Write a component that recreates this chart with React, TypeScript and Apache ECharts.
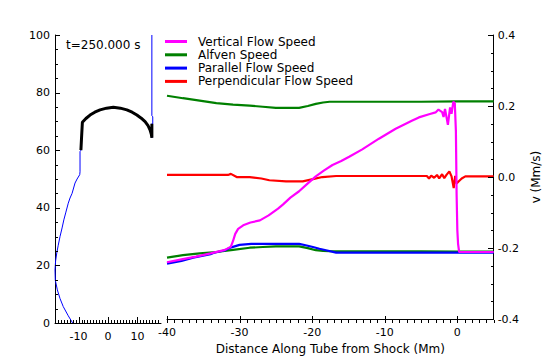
import React, { useEffect, useRef } from "react";
import * as echarts from "echarts";

// ---------- Left inset: loop shape (height vs position, Mm) ----------
const blueLowerX = [-12.0, -13.5, -15.2, -16.3, -17.2, -17.9, -18.0, -17.8, -17.4, -16.9, -16.3, -15.6, -15.0, -14.3, -13.5, -12.9, -12.2, -11.2, -10.5, -9.6, -9.5, -9.5];
const blueLowerY = [0, 2.5, 5.7, 8.5, 11.5, 14.9, 18.4, 21.5, 24.3, 27.0, 30.0, 33.0, 35.8, 38.5, 41.6, 43.4, 45.0, 48.6, 50.0, 51.5, 52.5, 59.5];
const arcX = [-9.2, -9.0, -8.7, -7.5, -6.1, -4.5, -2.7, -0.5, 1.8, 4.2, 6.4, 8.2, 9.8, 11.3, 12.6, 13.6, 14.3, 14.7, 14.9, 14.9];
const arcY = [60.0, 64.0, 69.7, 71.0, 72.2, 73.2, 74.0, 74.6, 74.9, 74.6, 74.0, 73.2, 72.2, 71.1, 69.9, 68.5, 67.0, 65.6, 64.3, 69.2];
const blueUpperX = [15.2, 15.2, 14.9, 14.9];
const blueUpperY = [69.2, 71.6, 72.0, 100];

// ---------- Right panel: speeds vs distance from shock ----------
const alfX = [-40, -37.8, -35.5, -33.2, -30.9, -28.6, -26.8, -25, -23.4, -21.8, -20.6, -19.5, -18.5, -17.6, -15, -10, -5, 0, 5];
const alfUpper = [0.229, 0.222, 0.215, 0.208, 0.204, 0.201, 0.198, 0.195, 0.195, 0.195, 0.2, 0.206, 0.21, 0.212, 0.212, 0.212, 0.212, 0.213, 0.213];
const alfLower = [-0.227, -0.22, -0.215, -0.211, -0.205, -0.199, -0.197, -0.195, -0.195, -0.195, -0.2, -0.206, -0.208, -0.209, -0.209, -0.209, -0.209, -0.21, -0.21];

const parX = [-40, -38, -36.4, -34, -33.6, -32, -31.4, -30.8, -30, -28.4, -25, -21.8, -20.9, -19.9, -19, -18.1, -16.7, -10, 0, 5];
const parV = [-0.244, -0.236, -0.227, -0.217, -0.214, -0.206, -0.2, -0.196, -0.191, -0.188, -0.188, -0.188, -0.192, -0.197, -0.202, -0.206, -0.213, -0.213, -0.213, -0.213];

const vertX = [-40, -38, -36, -34, -32, -31.2, -30.9, -30.6, -30.2, -29.5, -28.5, -27.2, -26, -24.7, -24, -23, -21.8, -20.6, -19.5, -18.4, -17.2, -16, -14.9, -13.1, -10.8, -8.5, -6.2, -5.3, -3.9, -3.0, -2.6, -2.1, -1.9, -1.7, -1.3, -1.0, -0.8, -0.55, -0.35, -0.2, -0.1, 0.0, 0.1, 0.25, 5];
const vertV = [-0.24, -0.232, -0.224, -0.215, -0.205, -0.196, -0.18, -0.16, -0.146, -0.136, -0.128, -0.122, -0.108, -0.089, -0.077, -0.058, -0.04, -0.018, 0.002, 0.018, 0.034, 0.045, 0.057, 0.078, 0.108, 0.136, 0.159, 0.168, 0.177, 0.182, 0.19, 0.183, 0.169, 0.192, 0.147, 0.196, 0.178, 0.212, 0.208, 0.13, -0.05, -0.15, -0.188, -0.211, -0.211];

const perpX = [-40, -35, -31.6, -31.2, -30.4, -28.6, -27, -25.9, -23.6, -21.3, -19.9, -18.6, -16.7, -10, -4.2, -3.9, -3.6, -3.2, -2.8, -2.5, -2.1, -1.8, -1.5, -1.1, -0.8, -0.5, -0.3, -0.1, 0.2, 0.6, 1.1, 5];
const perpV = [0.006, 0.006, 0.006, 0.009, 0.0, 0.0, -0.004, -0.009, -0.012, -0.012, -0.006, 0.0, 0.003, 0.003, 0.003, -0.004, 0.004, -0.002, 0.006, -0.004, 0.008, -0.003, 0.006, 0.016, 0.002, -0.031, 0.003, -0.018, -0.012, -0.004, 0.002, 0.002];

const leftXLabels = [-10, 0, 10];
const rightXLabels = [-40, -30, -20, -10, 0];
const legendNames = ["Vertical Flow Speed", "Alfven Speed", "Parallel Flow Speed", "Perpendicular Flow Speed"];
const timeLabel = "t=250.000 s";
const xTitle = "Distance Along Tube from Shock (Mm)";
const yTitle = "v (Mm/s)";

const zip = (xs: number[], ys: number[]) => xs.map((x, i) => [x, ys[i]]);
const steps = (a: number, b: number, s: number) => {
  const r: number[] = [];
  const n = Math.round((b - a) / s);
  for (let i = 0; i <= n; i++) r.push(+(a + i * s).toFixed(6));
  return r;
};
const isMult = (v: number, m: number) => Math.abs(v / m - Math.round(v / m)) < 1e-6;

const FONT = "DejaVu Sans";

export default function App() {
  const ref = useRef<HTMLDivElement>(null);
  useEffect(() => {
    if (!ref.current) return;
    const chart = echarts.init(ref.current, null, { renderer: "svg" });
    const axisLine = { show: true, onZero: false, lineStyle: { color: "#000", width: 1 } };
    const labelStyle = { color: "#000", fontFamily: FONT, fontSize: 11 };
    const blueLoop = [...zip(blueLowerX, blueLowerY), ...zip(arcX, arcY), ...zip(blueUpperX, blueUpperY)];
    chart.setOption({
      animation: false,
      backgroundColor: "#fff",
      textStyle: { fontFamily: FONT },
      grid: [
        { left: 55, top: 35, width: 106, height: 288 },
        { left: 167, top: 35, width: 328, height: 288 },
      ],
      legend: {
        data: legendNames,
        orient: "vertical",
        left: 165,
        top: 35,
        padding: 0,
        itemWidth: 22,
        itemHeight: 3,
        icon: "rect",
        itemGap: 0.3,
        textStyle: { color: "#000", fontFamily: FONT, fontSize: 12, lineHeight: 13, padding: [0, 0, 0, 6] },
        selectedMode: false,
      },
      xAxis: [
        {
          type: "value", gridIndex: 0, min: -18, max: 18,
          axisLine, splitLine: { show: false }, axisTick: { show: false },
          axisLabel: { ...labelStyle, margin: 8, customValues: leftXLabels },
        },
        {
          type: "value", gridIndex: 1, min: -40, max: 5,
          axisLine, splitLine: { show: false }, axisTick: { show: false },
          axisLabel: { ...labelStyle, margin: 8, customValues: rightXLabels },
          name: xTitle, nameLocation: "middle", nameGap: 22,
          nameTextStyle: { color: "#000", fontFamily: FONT, fontSize: 12 },
        },
      ],
      yAxis: [
        {
          type: "value", gridIndex: 0, position: "left", min: 0, max: 100, interval: 20,
          axisLine, splitLine: { show: false }, axisTick: { show: false },
          axisLabel: { ...labelStyle, margin: 5 },
        },
        {
          type: "value", gridIndex: 1, position: "right", min: -0.4, max: 0.4, interval: 0.2,
          axisLine, splitLine: { show: false }, axisTick: { show: false },
          axisLabel: { ...labelStyle, margin: 4, formatter: (v: number) => (Math.abs(v) < 1e-9 ? "0.0" : v.toFixed(1)) },
          name: yTitle, nameLocation: "middle", nameGap: 31, nameRotate: 90,
          nameTextStyle: { color: "#000", fontFamily: FONT, fontSize: 12 },
        },
      ],
      series: [
        { name: "loopBlue", type: "line", xAxisIndex: 0, yAxisIndex: 0, data: blueLoop, showSymbol: false, lineStyle: { color: "#0000ff", width: 1 }, itemStyle: { color: "#0000ff" }, z: 2 },
        { name: "loopBlack", type: "line", xAxisIndex: 0, yAxisIndex: 0, data: zip(arcX, arcY), showSymbol: false, lineStyle: { color: "#000", width: 3 }, itemStyle: { color: "#000" }, z: 3 },
        { name: "Alfven Speed", type: "line", xAxisIndex: 1, yAxisIndex: 1, data: zip(alfX, alfUpper), showSymbol: false, lineStyle: { color: "#008000", width: 2.2 }, itemStyle: { color: "#008000" }, z: 2 },
        { name: "Alfven Speed", type: "line", xAxisIndex: 1, yAxisIndex: 1, data: zip(alfX, alfLower), showSymbol: false, lineStyle: { color: "#008000", width: 2.2 }, itemStyle: { color: "#008000" }, z: 2 },
        { name: "Parallel Flow Speed", type: "line", xAxisIndex: 1, yAxisIndex: 1, data: zip(parX, parV), showSymbol: false, lineStyle: { color: "#0000ff", width: 2.2 }, itemStyle: { color: "#0000ff" }, z: 3 },
        { name: "Perpendicular Flow Speed", type: "line", xAxisIndex: 1, yAxisIndex: 1, data: zip(perpX, perpV), showSymbol: false, lineStyle: { color: "#ff0000", width: 2.2 }, itemStyle: { color: "#ff0000" }, z: 3 },
        { name: "Vertical Flow Speed", type: "line", xAxisIndex: 1, yAxisIndex: 1, data: zip(vertX, vertV), showSymbol: false, lineStyle: { color: "#ff00ff", width: 2.2 }, itemStyle: { color: "#ff00ff" }, z: 4 },
      ],
    });

    // Axis ticks (inward-pointing), placed through the library's own scales
    const ticks: any[] = [];
    const tick = (x1: number, y1: number, x2: number, y2: number) =>
      ticks.push({ type: "line", silent: true, z: 10, shape: { x1, y1, x2, y2 }, style: { stroke: "#000", lineWidth: 1 } });
    const px = (axis: number, v: number) => Math.round(chart.convertToPixel({ xAxisIndex: axis }, v) as number) + 0.5;
    const py = (axis: number, v: number) => Math.round(chart.convertToPixel({ yAxisIndex: axis }, v) as number) + 0.5;

    const baseY = py(0, 0) - 0.5; // x-axis line
    const leftEdge = px(0, -18) - 0.5;
    const rightEdge = px(1, 5) - 0.5;

    steps(-17, 17, 1).forEach((v) => {
      const x = px(0, v);
      const len = isMult(v, 10) ? 6 : 3;
      tick(x, baseY, x, baseY - len);
    });
    steps(-40, 5, 1).forEach((v) => {
      const x = px(1, v);
      const len = isMult(v, 10) ? 7 : 3;
      tick(x, baseY, x, baseY - len);
    });
    steps(0, 100, 5).forEach((v) => {
      const y = py(0, v);
      const len = isMult(v, 20) ? 5 : 3;
      tick(leftEdge, y, leftEdge + len, y);
    });
    steps(-0.4, 0.4, 0.05).forEach((v) => {
      const y = py(1, v);
      const len = isMult(v, 0.2) ? 6 : 3;
      tick(rightEdge, y, rightEdge - len, y);
    });

    chart.setOption({
      graphic: [
        { type: "text", left: 66, top: 39, style: { text: timeLabel, fill: "#000", font: `12px "${FONT}"` } },
        ...ticks,
      ],
    });
    return () => chart.dispose();
  }, []);
  return <div ref={ref} style={{ position: "fixed", left: 0, top: 0, width: 550, height: 360 }} />;
}
